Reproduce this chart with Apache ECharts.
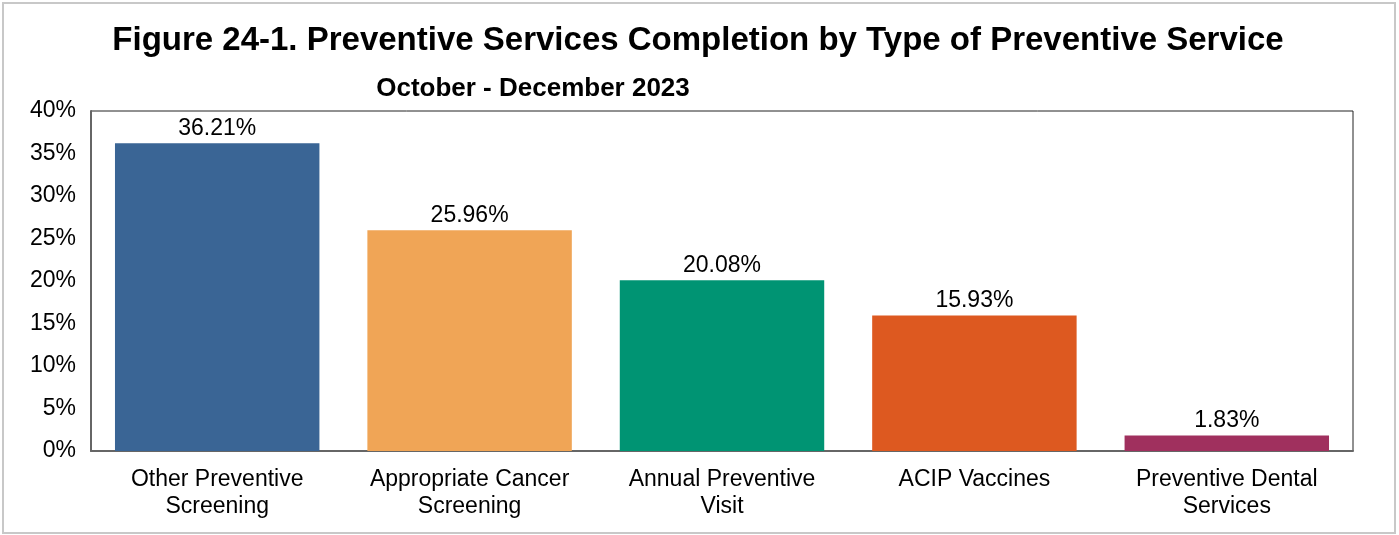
<!DOCTYPE html>
<html>
<head>
<meta charset="utf-8">
<script src="https://cdn.jsdelivr.net/npm/echarts@6/dist/echarts.min.js"></script>
<style>
  html, body { margin: 0; padding: 0; background: #fff; }
  #frame { position: absolute; left: 2px; top: 2px; width: 1394px; height: 532px; border: 2px solid #c8c8c8; box-sizing: border-box; }
  #chart { position: absolute; left: 0; top: 0; width: 1399px; height: 535px; }
</style>
</head>
<body>
<div id="frame"></div>
<div id="chart"></div>
<script>
// Service types and their completion share (%)
const categories = [
  'Other Preventive\nScreening',
  'Appropriate Cancer\nScreening',
  'Annual Preventive\nVisit',
  'ACIP Vaccines',
  'Preventive Dental\nServices'
];
const completion = [36.21, 25.96, 20.08, 15.93, 1.83];
const barColors = ['#3A6595', '#F0A556', '#009473', '#DD5920', '#A0305E'];

const font = 'Liberation Sans, Arial, sans-serif';
const chart = echarts.init(document.getElementById('chart'));

chart.setOption({
  animation: false,
  title: [
    {
      text: 'Figure 24-1. Preventive Services Completion by Type of Preventive Service',
      left: 693, top: 19, textAlign: 'center',
      textStyle: { fontFamily: font, fontSize: 33, fontWeight: 'bold', color: '#000' }
    },
    {
      text: 'October - December 2023',
      left: 528, top: 71, textAlign: 'center',
      textStyle: { fontFamily: font, fontSize: 26, fontWeight: 'bold', color: '#000' }
    }
  ],
  grid: {
    left: 91, top: 111, width: 1262, height: 340,
    show: true, borderColor: '#222', borderWidth: 1, backgroundColor: 'transparent'
  },
  xAxis: {
    type: 'category',
    data: categories,
    axisLine: { lineStyle: { color: '#666', width: 2 } },
    axisTick: { show: false },
    axisLabel: {
      fontFamily: font, fontSize: 23, color: '#000', margin: 15, lineHeight: 27, interval: 0
    }
  },
  yAxis: {
    type: 'value',
    min: 0, max: 40, interval: 5,
    splitLine: { show: false },
    axisLine: { show: true, lineStyle: { color: '#666', width: 2 } },
    axisTick: { show: false },
    axisLabel: {
      fontFamily: font, fontSize: 23, color: '#000', margin: 15,
      formatter: v => v + '%'
    }
  },
  series: [{
    type: 'bar',
    barWidth: '81%',
    data: completion.map((v, i) => ({ value: v, itemStyle: { color: barColors[i] } })),
    label: {
      show: true, position: 'top', distance: 3,
      fontFamily: font, fontSize: 23, color: '#000',
      formatter: p => p.value.toFixed(2) + '%'
    }
  }]
});
</script>
</body>
</html>
